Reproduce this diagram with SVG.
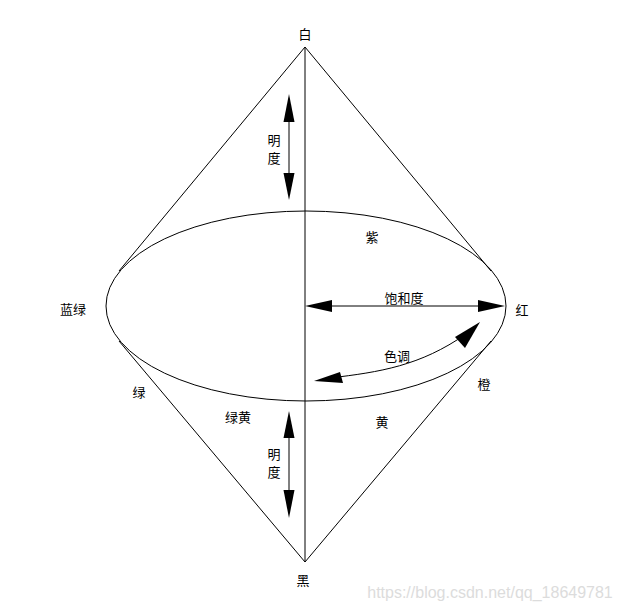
<svg xmlns="http://www.w3.org/2000/svg" width="619" height="610" viewBox="0 0 619 610">
<style>
.ln{fill:none;stroke:#000;stroke-width:1}
.hd{fill:#000;stroke:none}
.t{font-family:"Noto Sans CJK SC","Liberation Sans",sans-serif;font-size:13px;fill:#000;text-anchor:middle;dominant-baseline:central}
.wm{font-family:"Liberation Sans",Arial,sans-serif;font-size:16px;fill:#dcdcdc;text-anchor:middle;dominant-baseline:central}
</style>
<rect width="619" height="610" fill="#fff"/>
<g id="connectors">
<line class="ln" x1="305" y1="47" x2="305" y2="562"/>
<line class="ln" x1="305" y1="47" x2="119" y2="271"/>
<line class="ln" x1="305" y1="47" x2="491" y2="271"/>
<line class="ln" x1="305" y1="562" x2="119" y2="341"/>
<line class="ln" x1="305" y1="562" x2="491" y2="341"/>
</g>
<g id="cone-base">
<ellipse class="ln" cx="306" cy="306" rx="200" ry="95"/>
</g>
<g id="brightness-top">
<line class="ln" x1="289" y1="110" x2="289" y2="185"/>
<polygon class="hd" points="289,94 294.5,122 283.5,122"/>
<polygon class="hd" points="289,200 294.5,173 283.5,173"/>
<text class="t" x="274" y="139">明</text>
<text class="t" x="274" y="157">度</text>
</g>
<g id="brightness-bottom">
<line class="ln" x1="289" y1="425" x2="289" y2="505"/>
<polygon class="hd" points="289,411 294.5,438 283.5,438"/>
<polygon class="hd" points="289,518 294.5,490 283.5,490"/>
<text class="t" x="274" y="453">明</text>
<text class="t" x="274" y="471">度</text>
</g>
<g id="saturation">
<line class="ln" x1="320" y1="306" x2="490" y2="306"/>
<polygon class="hd" points="305,306 332,300 332,312"/>
<polygon class="hd" points="505,306 478,300 478,312"/>
<text class="t" x="404" y="297">饱和度</text>
</g>
<g id="hue">
<path class="ln" d="M330,378 C380,372 420,366 466,334"/>
<polygon class="hd" points="314,381 340,372 343,383"/>
<polygon class="hd" points="480,322 465,348 455,337"/>
<text class="t" x="397" y="355">色调</text>
</g>
<g id="labels">
<text class="t" x="305" y="33">白</text>
<text class="t" x="303" y="579">黑</text>
<text class="t" x="372" y="236">紫</text>
<text class="t" x="522" y="309">红</text>
<text class="t" x="73" y="308">蓝绿</text>
<text class="t" x="139" y="391">绿</text>
<text class="t" x="238" y="416">绿黄</text>
<text class="t" x="382" y="421">黄</text>
<text class="t" x="484" y="383">橙</text>
</g>
<text class="wm" x="490" y="592">https://blog.csdn.net/qq_18649781</text>
</svg>
